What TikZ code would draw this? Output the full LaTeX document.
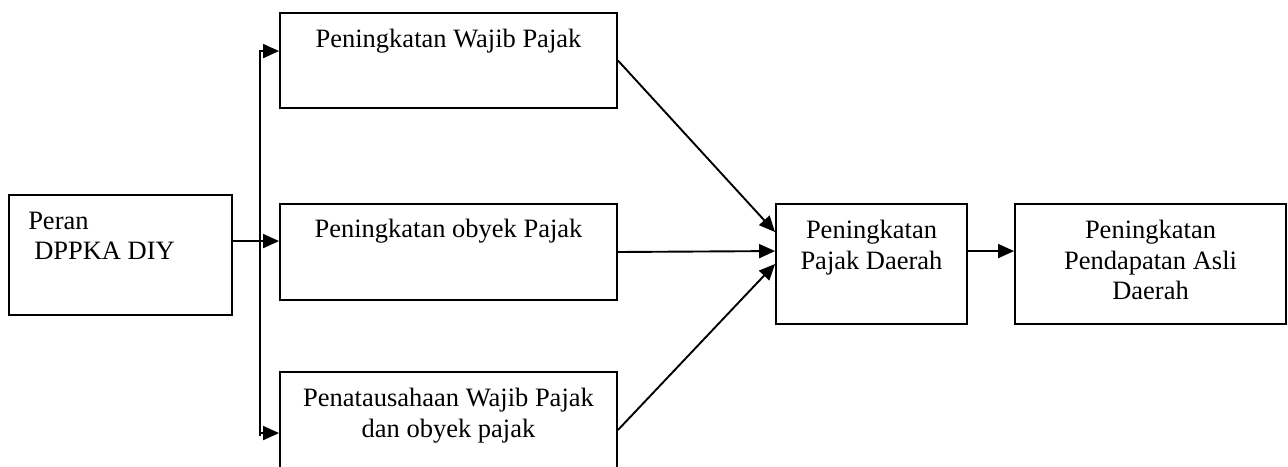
\documentclass[tikz,border=0pt]{standalone}
\usepackage{fontspec}
\setmainfont{Liberation Serif}
\usetikzlibrary{arrows.meta,calc}

\tikzset{
  box/.style={draw=black, line width=1.9pt, fill=white, inner sep=0pt, rectangle},
  txt/.style={inner sep=0pt, font=\fontsize{26.5}{30.5}\selectfont, align=center, anchor=north},
  link/.style={draw=black, line width=1.9pt},
  arrowlink/.style={link, -{Triangle[length=16pt,width=14pt]}}
}

\begin{document}
\begin{tikzpicture}[x=1pt, y=-1pt]
  \useasboundingbox (0,0) rectangle (1288,466);
  \clip (0,0) rectangle (1288,466);

  % boxes
  \node[box, minimum width=223pt, minimum height=120pt] (peran) at (120.5,255) {};
  \node[box, minimum width=337pt, minimum height=95pt]  (wajib) at (448.5,60.5) {};
  \node[box, minimum width=337pt, minimum height=96pt]  (obyek) at (448.5,252) {};
  \node[box, minimum width=337pt, minimum height=116pt] (tata)  at (448.5,430) {};
  \node[box, minimum width=191pt, minimum height=120pt] (pajak) at (871.5,264) {};
  \node[box, minimum width=271pt, minimum height=120pt] (pad)   at (1150.5,264) {};

  % box texts
  \node[txt, anchor=north west, align=left] (tperan) at ($(peran.north west)+(20,17.5)$) {Peran\\\hspace*{6pt}DPPKA DIY};
  \node[txt] (twajib) at ($(wajib.north)+(0,17)$) {Peningkatan Wajib Pajak};
  \node[txt] (tobyek) at ($(obyek.north)+(0,16)$) {Peningkatan obyek Pajak};
  \node[txt] (ttata)  at ($(tata.north)+(0,17)$)  {Penatausahaan Wajib Pajak\\dan obyek pajak};
  \node[txt] (tpajak) at ($(pajak.north)+(0,17)$) {Peningkatan\\Pajak Daerah};
  \node[txt] (tpad)   at ($(pad.north)+(0,17)$)   {Peningkatan\\Pendapatan Asli\\Daerah};

  % distribution bar on the left
  \coordinate (bartop) at (260,50);
  \coordinate (barbot) at (260,436);
  \draw[link] (bartop) -- (barbot);

  \coordinate (toA) at ($(wajib.north west)+(0,39)$);
  \coordinate (toB) at ($(obyek.north west)+(0,38)$);
  \coordinate (toC) at ($(tata.north west)+(0,62)$);
  \draw[arrowlink] (bartop |- toA) -- (toA);
  \draw[arrowlink] (peran.east |- toB) -- (toB);
  \draw[arrowlink] (bartop |- toC) -- (toC);

  % into Pajak Daerah
  \draw[arrowlink] (wajib.east) -- ($(pajak.north west)+(0,29)$);
  \draw[arrowlink] (obyek.east) -- ($(pajak.north west)+(0,48)$);
  \draw[arrowlink] (tata.east)  -- (pajak.west);

  % to Pendapatan Asli Daerah
  \draw[arrowlink] ($(pajak.north east)+(0,48)$) -- ($(pad.north west)+(0,48)$);
\end{tikzpicture}
\end{document}
